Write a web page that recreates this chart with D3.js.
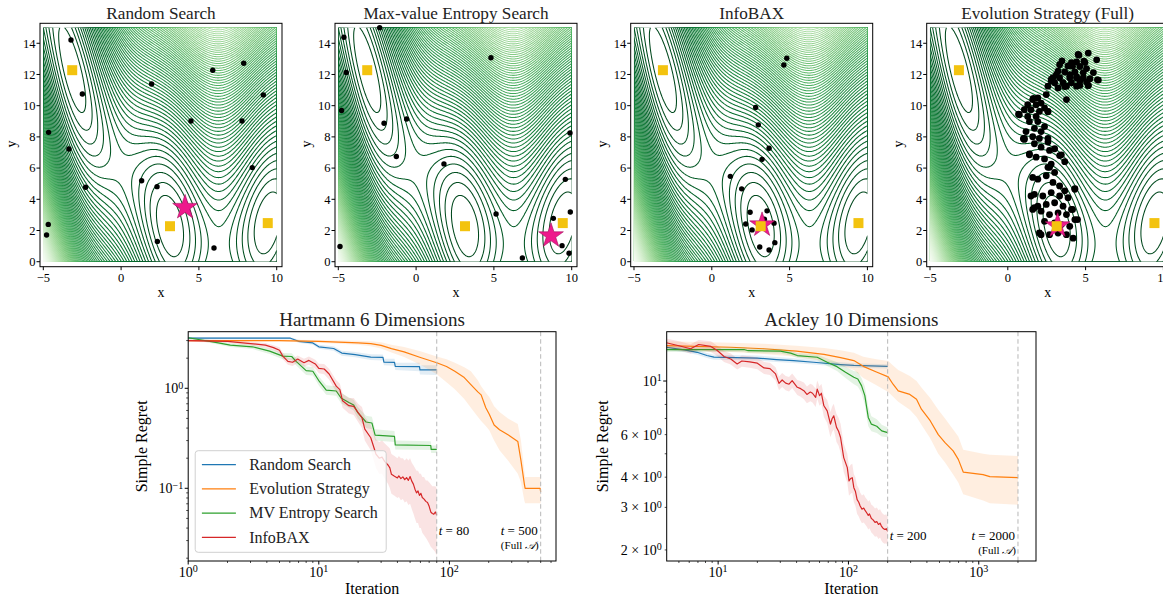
<!DOCTYPE html>
<html>
<head>
<meta charset="utf-8">
<script src="https://cdn.jsdelivr.net/npm/d3@7"></script>
<style>
    body { margin: 0; background: #fff; }
    svg  { display: block; font-family: "Liberation Serif", "DejaVu Serif", serif; }
</style>
</head>
<body>
<svg id="figure" width="1163" height="596"></svg>
<script>
'use strict';

/*
    Data
*/

const PANEL_TITLES = ['Random Search', 'Max-value Entropy Search', 'InfoBAX', 'Evolution Strategy (Full)'];

const X_TICKS = [-5, 0, 5, 10];
const Y_TICKS = [0, 2, 4, 6, 8, 10, 12, 14];

// Branin objective and its three global minima
const BRANIN_PARAMS = [1, 5.1 / (4 * Math.PI * Math.PI), 5 / Math.PI, 6, 10, 1 / (8 * Math.PI)];
const BRANIN_MINIMA = [[-Math.PI, 12.275], [Math.PI, 2.275], [9.42478, 2.475]];

const QUERIES_RANDOM = [
    [-3.22, 14.21], [-2.49, 10.75], [-4.66, 8.29], [-3.35, 7.22], [-2.28, 4.77], [-4.68, 2.39],
    [-4.79, 1.71], [1.96, 11.39], [4.49, 9.02], [1.32, 5.19], [2.31, 4.81], [2.33, 1.30],
    [5.89, 12.27], [7.88, 12.72], [9.14, 10.69], [7.77, 9.02], [8.43, 6.03], [5.97, 0.88]
];

const QUERIES_MES = [
    [-2.34, 15.0], [-4.64, 14.39], [-4.49, 12.13], [-4.79, 9.69], [-2.06, 8.87], [-0.61, 9.15],
    [-1.27, 6.74], [1.79, 6.27], [4.81, 13.07], [5.14, 3.06], [6.83, 0.24], [-4.89, 0.97],
    [9.89, 8.25], [9.59, 5.28], [9.91, 3.19], [8.82, 2.78], [9.38, 1.03], [9.83, 0.54]
];

const QUERIES_INFOBAX = [
    [4.82, 13.04], [4.63, 12.61], [2.82, 9.88], [2.99, 8.77], [3.68, 7.27], [3.23, 6.56],
    [1.19, 5.47], [1.92, 4.67], [2.46, 3.17], [3.55, 3.26], [2.18, 2.42], [2.59, 2.04],
    [3.38, 2.72], [4.0, 2.47], [4.05, 1.22], [3.08, 0.94], [3.68, 0.75]
];

const QUERIES_ES = [
    // upper cluster
    [5.17, 13.37], [5.71, 12.94], [4.57, 13.24], [3.48, 12.87], [4.09, 12.76], [4.42, 12.81],
    [4.96, 12.76], [3.87, 12.55], [4.63, 12.51], [5.06, 12.38], [3.23, 12.22], [3.66, 12.16],
    [4.31, 12.16], [4.85, 12.12], [5.50, 12.12], [5.82, 11.64], [2.90, 11.79], [3.33, 11.79],
    [3.98, 11.79], [4.42, 11.86], [4.85, 11.79], [5.28, 11.73], [3.01, 11.47], [3.55, 11.47],
    [4.09, 11.47], [4.63, 11.58], [5.06, 11.51], [3.23, 11.14], [3.77, 11.25], [4.42, 11.25],
    [5.17, 11.30], [2.58, 11.25], [2.79, 11.68], [3.77, 10.39], [2.47, 10.71], [4.52, 13.28],
    [4.89, 12.85], [4.16, 12.53], [3.12, 11.99], [2.79, 11.60], [3.66, 11.23], [4.63, 11.30],
    [5.17, 11.30], [5.76, 11.66], [3.33, 12.63], [3.98, 11.99], [4.42, 11.77],
    // middle cluster
    [1.93, 10.50], [1.60, 10.39], [1.28, 10.06], [1.82, 10.06], [2.14, 10.17], [2.36, 9.85],
    [1.06, 9.74], [1.49, 9.74], [2.03, 9.63], [2.58, 9.63], [0.74, 9.42], [1.28, 9.31],
    [1.82, 9.31], [1.39, 8.98], [1.93, 8.98], [2.36, 8.66], [1.71, 8.55], [2.14, 8.34],
    [1.17, 8.34], [1.60, 8.01], [1.06, 7.90], [2.58, 7.90], [2.03, 7.90], [0.69, 9.46],
    [1.0, 7.88], [1.65, 10.47], [2.58, 9.61],
    // lower cluster
    [1.06, 7.84], [1.71, 7.56], [2.14, 7.34], [2.58, 7.67], [3.01, 7.24], [3.33, 6.80],
    [3.66, 6.41], [1.39, 6.85], [1.82, 6.70], [2.36, 6.59], [2.79, 6.26], [2.58, 6.05],
    [3.01, 5.72], [2.47, 5.51], [1.93, 5.29], [2.90, 5.08], [3.33, 4.86], [3.66, 4.54],
    [4.31, 4.64], [1.71, 4.32], [2.25, 4.21], [2.79, 4.43], [3.33, 4.21], [3.87, 4.10],
    [1.93, 3.56], [2.47, 3.67], [3.01, 3.78], [3.55, 3.56], [4.09, 3.35], [1.60, 3.35],
    [2.14, 3.24], [2.68, 3.02], [3.23, 3.13], [3.77, 3.02], [4.31, 2.70], [3.98, 2.27],
    [2.36, 2.59], [3.01, 2.48], [3.44, 2.38], [2.14, 1.73], [2.68, 1.73], [3.23, 1.84],
    [3.77, 1.73], [4.20, 1.51], [1.60, 5.40], [1.49, 4.21], [1.71, 3.46], [2.03, 1.84],
    [4.31, 4.69], [4.48, 2.70], [4.16, 3.35], [2.68, 6.05], [3.44, 6.85], [2.68, 7.13], [1.39, 6.91]
];

const PANEL_QUERIES = [QUERIES_RANDOM, QUERIES_MES, QUERIES_INFOBAX, QUERIES_ES];
const PANEL_OPTIMA  = [[4.11, 3.48], [8.67, 1.66], [3.23, 2.36], [3.2, 2.3]];

// Regret curves: [iteration, mean, lower, upper]
const SERIES_NAMES = ['Random Search', 'Evolution Strategy', 'MV Entropy Search', 'InfoBAX'];

const HART_RANDOM = [
    [1, 3.18, 3.1, 3.26], [6, 3.18, 3.1, 3.26], [7, 2.95, 2.85, 3.05], [9, 2.84, 2.72, 2.96],
    [10, 2.6, 2.48, 2.72], [13, 2.5, 2.38, 2.63], [15, 2.25, 2.12, 2.38], [19, 2.17, 2.04, 2.3],
    [25, 2.05, 1.92, 2.19], [31, 2.04, 1.9, 2.18], [31.5, 1.83, 1.7, 1.97], [38, 1.82, 1.68, 1.97],
    [38.5, 1.66, 1.52, 1.8], [59, 1.65, 1.48, 1.8], [59.5, 1.53, 1.37, 1.7], [80, 1.53, 1.36, 1.7]
];

const HART_ES = [
    [1, 3.0, 2.95, 3.06], [5, 3.0, 2.94, 3.06], [10, 2.95, 2.86, 3.04], [20, 2.85, 2.72, 2.98],
    [25, 2.8, 2.64, 2.95], [30, 2.69, 2.5, 2.88], [36, 2.49, 2.28, 2.72], [45, 2.31, 2.05, 2.58],
    [60, 2.03, 1.72, 2.35], [80, 1.8, 1.38, 2.08], [95, 1.65, 1.15, 1.95], [110, 1.48, 0.98, 1.8],
    [130, 1.28, 0.78, 1.62], [146, 1.09, 0.64, 1.48], [165, 0.92, 0.52, 1.2], [175, 0.86, 0.47, 1.05],
    [190, 0.64, 0.42, 0.9], [202, 0.55, 0.38, 0.82], [220, 0.43, 0.3, 0.66], [242, 0.385, 0.24, 0.58],
    [281, 0.343, 0.19, 0.5], [334, 0.294, 0.14, 0.44], [353, 0.19, 0.115, 0.3], [375, 0.11, 0.075, 0.15],
    [380, 0.1, 0.071, 0.13], [495, 0.1, 0.071, 0.13], [500, 0.092, 0.07, 0.125]
];

const HART_MES = [
    [1, 3.2, 3.12, 3.28], [1.7, 2.85, 2.74, 2.96], [2.1, 2.7, 2.58, 2.82], [3.1, 2.6, 2.47, 2.73],
    [4.2, 2.35, 2.2, 2.5], [5.3, 2.1, 1.95, 2.26], [6.2, 2.08, 1.92, 2.24], [6.7, 1.86, 1.7, 2.02],
    [8, 1.5, 1.36, 1.65], [9, 1.48, 1.34, 1.63], [10.1, 1.17, 1.05, 1.3], [11.4, 0.96, 0.86, 1.07],
    [13.6, 0.94, 0.84, 1.05], [14.8, 0.8, 0.71, 0.9], [17, 0.72, 0.64, 0.81], [18.5, 0.68, 0.6, 0.77],
    [19.9, 0.57, 0.5, 0.65], [23, 0.46, 0.4, 0.53], [25.5, 0.45, 0.39, 0.52], [27, 0.34, 0.3, 0.39],
    [38, 0.33, 0.29, 0.375], [38.5, 0.272, 0.245, 0.3], [72, 0.268, 0.242, 0.295],
    [72.5, 0.245, 0.225, 0.268], [80, 0.245, 0.225, 0.268]
];

const HART_INFOBAX = [
    [1, 3.0, 2.92, 3.08], [2, 2.95, 2.86, 3.04], [3, 2.8, 2.68, 2.92], [3.9, 2.7, 2.56, 2.84],
    [4.5, 2.55, 2.4, 2.7], [5, 2.4, 2.24, 2.57], [5.3, 2.1, 1.95, 2.27], [5.8, 1.86, 1.72, 2.01],
    [6.3, 1.82, 1.67, 1.98], [6.9, 1.96, 1.8, 2.13], [7.7, 1.8, 1.64, 1.97], [8.4, 1.9, 1.72, 2.08],
    [9.4, 1.75, 1.57, 1.93], [10, 1.58, 1.41, 1.76], [11, 1.56, 1.38, 1.75], [12, 1.39, 1.22, 1.57],
    [13.6, 1.05, 0.92, 1.2], [14.5, 0.97, 0.84, 1.11], [15.2, 0.75, 0.64, 0.88], [17, 0.67, 0.56, 0.8],
    [18.5, 0.66, 0.54, 0.8], [20, 0.57, 0.46, 0.7], [21.4, 0.51, 0.4, 0.65], [22.5, 0.39, 0.3, 0.52],
    [25, 0.32, 0.24, 0.43], [27.4, 0.22, 0.16, 0.31], [29, 0.2, 0.14, 0.29], [30.5, 0.205, 0.14, 0.3],
    [32, 0.185, 0.125, 0.28], [34, 0.17, 0.11, 0.26], [35, 0.16, 0.1, 0.25], [36, 0.138, 0.088, 0.22],
    [38, 0.132, 0.084, 0.21], [40, 0.127, 0.08, 0.2], [41, 0.133, 0.082, 0.21], [42.5, 0.125, 0.076, 0.2],
    [44, 0.13, 0.078, 0.2], [45.5, 0.122, 0.072, 0.19], [47, 0.128, 0.074, 0.2], [48.5, 0.12, 0.068, 0.19],
    [50, 0.131, 0.07, 0.2], [51.5, 0.118, 0.062, 0.18], [53, 0.11, 0.056, 0.17], [54.5, 0.098, 0.05, 0.16],
    [56, 0.09, 0.045, 0.15], [57.5, 0.094, 0.045, 0.15], [59, 0.085, 0.04, 0.14], [60.5, 0.089, 0.04, 0.14],
    [62, 0.081, 0.036, 0.13], [64, 0.078, 0.034, 0.13], [66, 0.074, 0.032, 0.12], [68, 0.072, 0.03, 0.12],
    [70, 0.066, 0.028, 0.115], [72, 0.058, 0.026, 0.11], [74, 0.056, 0.025, 0.105],
    [76, 0.055, 0.024, 0.105], [78, 0.058, 0.023, 0.105], [80, 0.054, 0.021, 0.1]
];

const ACK_RANDOM = [
    [1, 13.9, 13.6, 14.2], [4, 13.8, 13.5, 14.1], [5.5, 13.45, 13.15, 13.75], [6.9, 13.15, 12.85, 13.45],
    [8.2, 12.75, 12.45, 13.05], [9.3, 12.55, 12.25, 12.85], [20, 12.45, 12.15, 12.75],
    [28, 12.27, 11.98, 12.56], [38, 12.15, 11.88, 12.42], [54, 11.96, 11.7, 12.22],
    [87, 11.7, 11.45, 11.95], [110, 11.6, 11.36, 11.84], [200, 11.5, 11.28, 11.72]
];

const ACK_ES = [
    [1, 14.0, 13.4, 14.6], [4, 14.0, 13.4, 14.6], [12.5, 13.8, 13.2, 14.4], [22.5, 13.6, 12.95, 14.25],
    [40, 13.3, 12.6, 14.0], [65, 12.9, 12.1, 13.7], [87, 12.5, 11.6, 13.4], [110, 12.15, 11.1, 13.1],
    [130, 11.5, 10.3, 12.6], [164, 10.9, 9.6, 12.3], [202, 10.4, 9.0, 12.1], [220, 9.7, 8.6, 11.6],
    [241, 9.1, 8.2, 11.1], [296, 8.8, 7.6, 10.5], [333, 8.4, 7.1, 10.0], [363, 7.65, 6.6, 9.4],
    [424, 6.85, 5.8, 8.5], [489, 6.0, 5.0, 7.6], [551, 5.56, 4.6, 7.0], [636, 5.14, 4.1, 6.3],
    [697, 4.74, 3.8, 5.9], [760, 4.2, 3.4, 5.2], [1080, 4.1, 3.2, 5.0], [1217, 4.02, 3.12, 4.95],
    [2000, 3.98, 3.08, 4.9]
];

const ACK_MES = [
    [1, 13.5, 13.2, 13.8], [4, 13.5, 13.2, 13.8], [15.8, 13.5, 13.2, 13.8], [17, 13.35, 13.05, 13.65],
    [30, 13.3, 13.0, 13.6], [36, 13.05, 12.75, 13.35], [40.5, 12.75, 12.45, 13.05],
    [57.6, 12.54, 12.2, 12.88], [68.7, 11.96, 11.55, 12.4], [81.7, 11.47, 11.0, 11.95],
    [95, 10.87, 10.3, 11.45], [110, 10.36, 9.7, 11.0], [118, 10.2, 9.5, 10.9], [126, 9.57, 8.9, 10.3],
    [133.6, 8.7, 8.0, 9.5], [138, 7.78, 7.1, 8.6], [142, 7.07, 6.5, 7.8], [150, 6.63, 6.2, 7.15],
    [165, 6.5, 6.1, 6.95], [180, 6.22, 5.9, 6.6], [200, 6.12, 5.85, 6.42]
];

const ACK_INFOBAX = [
    [1, 14.8, 14.2, 15.4], [4, 14.4, 13.8, 15.0], [5, 14.0, 13.4, 14.6], [6.15, 13.6, 13.0, 14.2],
    [7.1, 14.16, 13.5, 14.8], [8.8, 13.9, 13.2, 14.6], [9.85, 13.37, 12.7, 14.0], [11.1, 12.63, 12.0, 13.3],
    [12.5, 12.34, 11.7, 13.0], [14, 11.77, 11.15, 12.4], [15.2, 12.1, 11.45, 12.75], [17.5, 12.0, 11.35, 12.65],
    [20, 11.85, 11.2, 12.5], [22.5, 11.33, 10.7, 12.0], [25, 11.25, 10.6, 11.9], [27.6, 10.7, 10.05, 11.4],
    [29.3, 9.78, 9.15, 10.45], [31, 10.1, 9.45, 10.8], [33, 9.8, 9.15, 10.5], [35, 9.7, 9.05, 10.4],
    [37, 10.04, 9.35, 10.75], [40.5, 9.42, 8.75, 10.1], [43, 9.3, 8.6, 10.0], [45.5, 9.12, 8.4, 9.85],
    [48, 8.8, 8.1, 9.5], [51, 9.0, 8.25, 9.75], [53, 8.9, 8.15, 9.65], [56, 8.56, 7.8, 9.3],
    [57.6, 9.26, 8.45, 10.05], [60, 8.7, 7.9, 9.5], [62, 8.9, 8.05, 9.75], [64.8, 7.9, 7.1, 8.7],
    [68.7, 7.53, 6.7, 8.35], [72.8, 6.63, 5.85, 7.45], [75, 7.0, 6.15, 7.85], [77.2, 7.18, 6.3, 8.05],
    [79, 6.8, 5.95, 7.65], [81, 6.43, 5.6, 7.3], [84, 6.2, 5.4, 7.05], [87, 5.84, 5.05, 6.65],
    [92, 4.82, 4.2, 5.5], [98, 4.38, 3.8, 5.0], [101, 3.86, 3.35, 4.4], [104, 3.95, 3.42, 4.5],
    [107, 3.98, 3.45, 4.55], [110, 3.62, 3.15, 4.12], [113, 3.5, 3.05, 4.0], [116.6, 3.23, 2.82, 3.7],
    [120, 3.15, 2.75, 3.6], [123, 3.04, 2.66, 3.46], [127, 2.95, 2.58, 3.36], [131, 2.98, 2.6, 3.4],
    [135, 2.9, 2.54, 3.3], [138, 2.85, 2.5, 3.25], [142, 2.78, 2.43, 3.17], [145, 2.82, 2.46, 3.22],
    [150, 2.7, 2.36, 3.08], [154, 2.67, 2.33, 3.05], [160, 2.6, 2.27, 2.97], [165, 2.62, 2.28, 3.0],
    [170, 2.55, 2.22, 2.92], [175, 2.58, 2.25, 2.95], [179, 2.51, 2.19, 2.87], [184, 2.46, 2.14, 2.82],
    [190, 2.43, 2.12, 2.79], [195, 2.45, 2.13, 2.81], [200, 2.39, 2.08, 2.74]
];

const HART_BUDGETS = [80, 500];
const ACK_BUDGETS  = [200, 2000];

/*
    Constants
*/

const FIGURE = d3.select('#figure');

const SERIES_COLORS = ['#1f77b4', '#ff7f0e', '#2ca02c', '#d62728'];

const TOP_ROW = Object.freeze({
    LEFTS  : [40, 335, 630.7, 926.7],
    TOP    : 23.3,
    WIDTH  : 242,
    HEIGHT : 243.4,
    X_DOMAIN : [-5.212, 10.34],
    Y_DOMAIN : [-0.32, 15.28]
});

const BOTTOM_ROW = Object.freeze({
    TOP    : 331.7,
    HEIGHT : 229.3
});

const GRID_N      = 301;
const LEVEL_COUNT = 90;

const MINUS = '\u2212';

/*
    Functions
*/

function branin(x, y) {
    const [a, b, c, r, s, t] = BRANIN_PARAMS;
    return a * Math.pow(y - b * x * x + c * x - r, 2) + s * (1 - t) * Math.cos(x) + s;
}

function superLabel(text, base, exponent) {
    text.append('tspan').text(base);
    text.append('tspan')
        .attr('dy', '-0.45em')
        .attr('font-size', '0.72em')
        .text(exponent);
}

function setUpContourPanels() {

    const STEP = 15 / (GRID_N - 1);
    const values = new Float64Array(GRID_N * GRID_N);
    for (let j = 0 ; j < GRID_N ; j++) {
        for (let i = 0 ; i < GRID_N ; i++) {
            values[j * GRID_N + i] = branin(-5 + i * STEP, j * STEP);
        }
    }
    const [V_MIN, V_MAX] = d3.extent(values);
    const LEVELS = d3.range(1, LEVEL_COUNT).map(k => V_MIN + k * (V_MAX - V_MIN) / LEVEL_COUNT);
    const CONTOURS = d3.contours().size([GRID_N, GRID_N]).thresholds(LEVELS)(values);

    const x = d3.scaleLinear().domain(TOP_ROW.X_DOMAIN).range([0, TOP_ROW.WIDTH]);
    const y = d3.scaleLinear().domain(TOP_ROW.Y_DOMAIN).range([TOP_ROW.HEIGHT, 0]);

    const contourPath = d3.geoPath(d3.geoTransform({
        point(gx, gy) {
            this.stream.point(x(-5 + (gx - 0.5) * STEP), y((gy - 0.5) * STEP));
        }
    }));

    const defs = FIGURE.append('defs');
    defs.append('clipPath').attr('id', 'branin-clip')
        .append('rect')
          .attr('x', x(-5)).attr('y', y(15))
          .attr('width', x(10) - x(-5)).attr('height', y(0) - y(15));

    const STAR   = d3.symbol(d3.symbolStar, 190)();
    const SQUARE = d3.symbol(d3.symbolSquare, 100)();

    TOP_ROW.LEFTS.forEach((left, p) => {

        const g = FIGURE.append('g')
                        .attr('transform', `translate(${left},${TOP_ROW.TOP})`);

        g.append('g')
           .attr('clip-path', 'url(#branin-clip)')
           .selectAll('path')
           .data(CONTOURS)
           .join('path')
             .attr('d', contourPath)
             .attr('fill', 'none')
             .attr('stroke', d => d3.interpolateGreens(1 - (d.value - V_MIN) / (V_MAX - V_MIN)))
             .attr('stroke-width', 1.05);

        g.append('g')
           .selectAll('circle')
           .data(PANEL_QUERIES[p])
           .join('circle')
             .attr('cx', d => x(d[0]))
             .attr('cy', d => y(d[1]))
             .attr('r', p === 3 ? 3.4 : 2.7)
             .attr('fill', '#000');

        g.append('path')
           .attr('d', STAR)
           .attr('transform', `translate(${x(PANEL_OPTIMA[p][0])},${y(PANEL_OPTIMA[p][1])})`)
           .attr('fill', '#ee1a8c')
           .attr('stroke', '#a3105c')
           .attr('stroke-width', 0.6);

        g.append('g')
           .selectAll('path')
           .data(BRANIN_MINIMA)
           .join('path')
             .attr('d', SQUARE)
             .attr('transform', d => `translate(${x(d[0])},${y(d[1])})`)
             .attr('fill', '#f3c30f');

        g.append('rect')
           .attr('width', TOP_ROW.WIDTH)
           .attr('height', TOP_ROW.HEIGHT)
           .attr('fill', 'none')
           .attr('stroke', '#000')
           .attr('stroke-width', 1);

        // ticks
        X_TICKS.forEach(t => {
            g.append('line')
               .attr('x1', x(t)).attr('x2', x(t))
               .attr('y1', TOP_ROW.HEIGHT).attr('y2', TOP_ROW.HEIGHT + 3.5)
               .attr('stroke', '#000');
            g.append('text')
               .attr('x', x(t)).attr('y', TOP_ROW.HEIGHT + 15)
               .attr('text-anchor', 'middle')
               .attr('font-size', 12.5)
               .text(t < 0 ? MINUS + Math.abs(t) : t);
        });
        Y_TICKS.forEach(t => {
            g.append('line')
               .attr('x1', -3.5).attr('x2', 0)
               .attr('y1', y(t)).attr('y2', y(t))
               .attr('stroke', '#000');
            g.append('text')
               .attr('x', -4.5).attr('y', y(t) + 4.3)
               .attr('text-anchor', 'end')
               .attr('font-size', 12.5)
               .text(t);
        });

        g.append('text')
           .attr('x', TOP_ROW.WIDTH / 2).attr('y', -4.5)
           .attr('text-anchor', 'middle')
           .attr('font-size', 17.2)
           .attr('fill', '#222')
           .text(PANEL_TITLES[p]);

        g.append('text')
           .attr('x', TOP_ROW.WIDTH / 2).attr('y', TOP_ROW.HEIGHT + 30)
           .attr('text-anchor', 'middle')
           .attr('font-size', 14)
           .text('x');

        g.append('text')
           .attr('transform', `translate(${-24},${TOP_ROW.HEIGHT / 2 - 1}) rotate(-90)`)
           .attr('text-anchor', 'middle')
           .attr('font-size', 14)
           .text('y');
    });
}

function setUpRegretPanel(cfg) {

    const g = FIGURE.append('g')
                    .attr('transform', `translate(${cfg.left},${BOTTOM_ROW.TOP})`);

    const x = d3.scaleLog().domain(cfg.xDomain).range([0, cfg.width]);
    const y = d3.scaleLog().domain(cfg.yDomain).range([BOTTOM_ROW.HEIGHT, 0]);

    g.append('defs').append('clipPath').attr('id', cfg.id + '-clip')
       .append('rect').attr('width', cfg.width).attr('height', BOTTOM_ROW.HEIGHT);

    const plot = g.append('g').attr('clip-path', `url(#${cfg.id}-clip)`);

    const band = d3.area().x(d => x(d[0])).y0(d => y(d[2])).y1(d => y(d[3]));
    const line = d3.line().x(d => x(d[0])).y(d => y(d[1]));

    cfg.series.forEach((s, i) => {
        plot.append('path')
              .attr('d', band(s))
              .attr('fill', SERIES_COLORS[i])
              .attr('fill-opacity', 0.13);
        plot.append('path')
              .attr('d', line(s))
              .attr('fill', 'none')
              .attr('stroke', SERIES_COLORS[i])
              .attr('stroke-width', 1.2)
              .attr('stroke-linejoin', 'round');
    });

    cfg.budgets.forEach(b => {
        g.append('line')
           .attr('x1', x(b)).attr('x2', x(b))
           .attr('y1', 0).attr('y2', BOTTOM_ROW.HEIGHT)
           .attr('stroke', '#b8b8b8')
           .attr('stroke-width', 1)
           .attr('stroke-dasharray', '4.5,3');
    });

    g.append('rect')
       .attr('width', cfg.width)
       .attr('height', BOTTOM_ROW.HEIGHT)
       .attr('fill', 'none')
       .attr('stroke', '#000')
       .attr('stroke-width', 1);

    // x ticks
    cfg.xMinor.forEach(t => {
        g.append('line')
           .attr('x1', x(t)).attr('x2', x(t))
           .attr('y1', BOTTOM_ROW.HEIGHT).attr('y2', BOTTOM_ROW.HEIGHT + 2)
           .attr('stroke', '#000').attr('stroke-width', 0.7);
    });
    cfg.xMajor.forEach(t => {
        g.append('line')
           .attr('x1', x(t)).attr('x2', x(t))
           .attr('y1', BOTTOM_ROW.HEIGHT).attr('y2', BOTTOM_ROW.HEIGHT + 3.5)
           .attr('stroke', '#000');
        g.append('text')
           .attr('x', x(t)).attr('y', BOTTOM_ROW.HEIGHT + 16)
           .attr('text-anchor', 'middle')
           .attr('font-size', 14)
           .call(superLabel, '10', String(Math.round(Math.log10(t))));
    });

    // y ticks
    cfg.yMinor.forEach(t => {
        g.append('line')
           .attr('x1', -2).attr('x2', 0)
           .attr('y1', y(t)).attr('y2', y(t))
           .attr('stroke', '#000').attr('stroke-width', 0.7);
    });
    cfg.yMajor.forEach(t => {
        g.append('line')
           .attr('x1', -3.5).attr('x2', 0)
           .attr('y1', y(t)).attr('y2', y(t))
           .attr('stroke', '#000');
    });
    cfg.yLabels.forEach(([t, base, exponent]) => {
        g.append('text')
           .attr('x', -5).attr('y', y(t) + 5)
           .attr('text-anchor', 'end')
           .attr('font-size', 14)
           .call(superLabel, base, exponent);
    });

    g.append('text')
       .attr('x', cfg.width / 2).attr('y', -5.5)
       .attr('text-anchor', 'middle')
       .attr('font-size', 19)
       .attr('fill', '#222')
       .text(cfg.title);

    g.append('text')
       .attr('x', cfg.width / 2).attr('y', BOTTOM_ROW.HEIGHT + 33.5)
       .attr('text-anchor', 'middle')
       .attr('font-size', 16)
       .text('Iteration');

    g.append('text')
       .attr('transform', `translate(${cfg.yLabelX},${BOTTOM_ROW.HEIGHT / 2}) rotate(-90)`)
       .attr('text-anchor', 'middle')
       .attr('font-size', 16)
       .text('Simple Regret');

    // budget annotations
    const [SHORT, FULL] = cfg.budgets;
    const shortLabel = g.append('text')
                          .attr('x', x(SHORT) + 2).attr('y', cfg.annotY)
                          .attr('font-size', 13);
    shortLabel.append('tspan').attr('font-style', 'italic').text('t');
    shortLabel.append('tspan').text(' = ' + SHORT);

    const fullLabel = g.append('text')
                         .attr('x', x(FULL) - 3).attr('y', cfg.annotY)
                         .attr('text-anchor', 'end')
                         .attr('font-size', 13);
    fullLabel.append('tspan').attr('font-style', 'italic').text('t');
    fullLabel.append('tspan').text(' = ' + FULL);

    const fullNote = g.append('text')
                        .attr('x', x(FULL) - 2).attr('y', cfg.annotY + 14)
                        .attr('text-anchor', 'end')
                        .attr('font-size', 11);
    fullNote.append('tspan').text('(Full ');
    fullNote.append('tspan').attr('font-style', 'italic').text('\uD835\uDC9C');
    fullNote.append('tspan').text(')');

    return g;
}

function setUpLegend(g) {

    const BOX = { X: 7, Y: 119, W: 191, H: 101.6 };
    const legend = g.append('g').attr('transform', `translate(${BOX.X},${BOX.Y})`);

    legend.append('rect')
            .attr('width', BOX.W).attr('height', BOX.H)
            .attr('rx', 3)
            .attr('fill', '#fff').attr('fill-opacity', 0.8)
            .attr('stroke', '#d0d0d0').attr('stroke-width', 1);

    SERIES_NAMES.forEach((name, i) => {
        const ROW_Y = 14 + i * 24.2;
        legend.append('line')
                .attr('x1', 6.7).attr('x2', 40.7)
                .attr('y1', ROW_Y).attr('y2', ROW_Y)
                .attr('stroke', SERIES_COLORS[i])
                .attr('stroke-width', 1.3);
        legend.append('text')
                .attr('x', 54).attr('y', ROW_Y + 5.3)
                .attr('font-size', 16)
                .attr('fill', '#222')
                .text(name);
    });
}

/*
    D3 code
*/

setUpContourPanels();

const HART_G = setUpRegretPanel({
    id       : 'hartmann',
    title    : 'Hartmann 6 Dimensions',
    left     : 188.2,
    width    : 367.8,
    xDomain  : [1, 655],
    yDomain  : [0.01875, 3.68],
    series   : [HART_RANDOM, HART_ES, HART_MES, HART_INFOBAX],
    budgets  : HART_BUDGETS,
    xMajor   : [1, 10, 100],
    xMinor   : [2, 3, 4, 5, 6, 7, 8, 9, 20, 30, 40, 50, 60, 70, 80, 90, 200, 300, 400, 500, 600],
    yMajor   : [0.1, 1],
    yMinor   : [0.02, 0.03, 0.04, 0.05, 0.06, 0.07, 0.08, 0.09, 0.2, 0.3, 0.4, 0.5, 0.6, 0.7, 0.8, 0.9, 2, 3],
    yLabels  : [[1, '10', '0'], [0.1, '10', MINUS + '1']],
    yLabelX  : -41,
    annotY   : 203.3
});

setUpLegend(HART_G);

setUpRegretPanel({
    id       : 'ackley',
    title    : 'Ackley 10 Dimensions',
    left     : 666.7,
    width    : 369.3,
    xDomain  : [4.03, 2750],
    yDomain  : [1.8, 16.0],
    series   : [ACK_RANDOM, ACK_ES, ACK_MES, ACK_INFOBAX],
    budgets  : ACK_BUDGETS,
    xMajor   : [10, 100, 1000],
    xMinor   : [5, 6, 7, 8, 9, 20, 30, 40, 50, 60, 70, 80, 90, 200, 300, 400, 500, 600, 700, 800, 900, 2000],
    yMajor   : [10],
    yMinor   : [2, 3, 4, 5, 6, 7, 8, 9],
    yLabels  : [[10, '10', '1'], [6, '6 \u00D7 10', '0'], [4, '4 \u00D7 10', '0'],
                [3, '3 \u00D7 10', '0'], [2, '2 \u00D7 10', '0']],
    yLabelX  : -59,
    annotY   : 208.3
});

</script>
</body>
</html>
